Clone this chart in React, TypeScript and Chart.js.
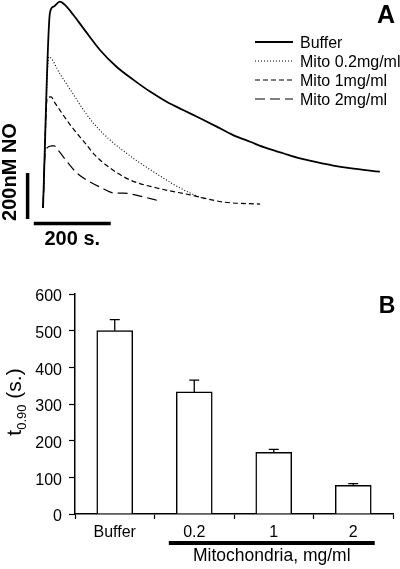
import React, { useEffect, useRef } from 'react';
import { Chart, registerables } from 'chart.js';
Chart.register(...registerables);

const FONT = "'Liberation Sans', Arial, Helvetica, sans-serif";

// ---------- Panel A: NO traces (time in s, concentration in nM) ----------
const bufferT = [0, 18, 27, 44, 57, 79, 105, 148, 191, 235, 278, 321, 364, 408, 451, 494, 538, 581, 624, 668, 711, 754, 797, 875];
const bufferNO = [0, 848, 875, 897, 883, 839, 781, 687, 614, 557, 506, 462, 426, 390, 354, 317, 288, 260, 238, 216, 199, 184, 173, 158];

const mito02T = [0, 15, 44, 75, 109, 135, 174, 213, 252, 296, 338, 382, 421];
const mito02NO = [0, 657, 583, 504, 417, 361, 296, 243, 196, 148, 104, 65, 39];

const mito1T = [0, 11, 21, 31, 75, 109, 135, 174, 226, 296, 382, 468, 564];
const mito1NO = [0, 478, 483, 457, 352, 283, 230, 174, 122, 87, 57, 26, 17];

const mito2T = [0, 6, 23, 29, 39, 65, 88, 122, 148, 187, 208, 252, 304];
const mito2NO = [0, 250, 270, 270, 252, 196, 152, 113, 91, 65, 65, 52, 30];

const traceNames = ['Buffer', 'Mito 0.2mg/ml', 'Mito 1mg/ml', 'Mito 2mg/ml'];

// scale bars (200 s, 200 nM)
const timeBarT = [-24, 176];
const timeBarLevel = -67;
const concBarNO = [-48, 152];
const concBarT = -40;

// ---------- Panel B: t0.90 bars ----------
const categories = ['Buffer', '0.2', '1', '2'];
const t90Values = [500, 333, 168, 78];
const t90Errors = [30, 32, 8, 5];
const mitoGroupSpan = [0.68, 3.27]; // category units covered by the "Mitochondria" bar

const toPoints = (xs: number[], ys: number[]) => xs.map((x, i) => ({ x, y: ys[i] }));

const traceStyles = [
  { borderWidth: 1.8, borderDash: [] as number[] },
  { borderWidth: 1.1, borderDash: [1, 2] },
  { borderWidth: 1.2, borderDash: [5, 3] },
  { borderWidth: 1.2, borderDash: [10, 5] },
];

const panelAPlugin = {
  id: 'panelA',
  afterDraw(chart: any) {
    const ctx = chart.ctx;
    const xs = chart.scales.x;
    const ys = chart.scales.y;
    ctx.save();
    ctx.fillStyle = '#000';
    ctx.strokeStyle = '#000';
    // legend
    ctx.font = `16px ${FONT}`;
    ctx.textAlign = 'left';
    ctx.textBaseline = 'alphabetic';
    traceNames.forEach((name, i) => {
      const base = 48 + i * 19;
      ctx.save();
      ctx.lineWidth = traceStyles[i].borderWidth;
      ctx.setLineDash(traceStyles[i].borderDash);
      ctx.beginPath();
      ctx.moveTo(255, base - 6);
      ctx.lineTo(293, base - 6);
      ctx.stroke();
      ctx.restore();
      ctx.fillText(name, 300, base);
    });
    // panel letter
    ctx.font = `bold 25px ${FONT}`;
    ctx.textAlign = 'center';
    ctx.fillText('A', 386, 23);
    // scale bar labels
    ctx.font = `bold 20px ${FONT}`;
    const midT = xs.getPixelForValue((timeBarT[0] + timeBarT[1]) / 2);
    ctx.fillText('200 s.', midT, ys.getPixelForValue(timeBarLevel) + 22);
    ctx.save();
    ctx.translate(16, 172);
    ctx.rotate(-Math.PI / 2);
    ctx.fillText('200nM NO', 0, 0);
    ctx.restore();
    ctx.restore();
  },
};

const panelBPlugin = {
  id: 'panelB',
  afterDraw(chart: any) {
    const ctx = chart.ctx;
    const xs = chart.scales.x;
    const ys = chart.scales.y;
    const area = chart.chartArea;
    ctx.save();
    ctx.strokeStyle = '#000';
    ctx.fillStyle = '#000';
    // minor ticks
    ctx.lineWidth = 1.2;
    ys.ticks.forEach((t: any) => {
      if (t.value % 100 !== 0) {
        const y = ys.getPixelForValue(t.value);
        ctx.beginPath();
        ctx.moveTo(area.left - 3, y);
        ctx.lineTo(area.left, y);
        ctx.stroke();
      }
    });
    // error bars
    const meta = chart.getDatasetMeta(0);
    ctx.lineWidth = 1.3;
    meta.data.forEach((bar: any, i: number) => {
      const yTop = ys.getPixelForValue(t90Values[i]);
      const yErr = ys.getPixelForValue(t90Values[i] + t90Errors[i]);
      ctx.beginPath();
      ctx.moveTo(bar.x, yTop);
      ctx.lineTo(bar.x, yErr);
      ctx.moveTo(bar.x - 5, yErr);
      ctx.lineTo(bar.x + 5, yErr);
      ctx.stroke();
    });
    // y title with subscript
    ctx.save();
    ctx.translate(21, (area.top + area.bottom) / 2 - 2);
    ctx.rotate(-Math.PI / 2);
    ctx.textBaseline = 'alphabetic';
    ctx.textAlign = 'left';
    const mainFont = `21px ${FONT}`;
    const subFont = `13px ${FONT}`;
    ctx.font = mainFont;
    const w1 = ctx.measureText('t').width;
    const w3 = ctx.measureText(' (s.)').width;
    ctx.font = subFont;
    const w2 = ctx.measureText('0.90').width;
    let x0 = -(w1 + w2 + w3) / 2;
    ctx.font = mainFont;
    ctx.fillText('t', x0, 0);
    x0 += w1;
    ctx.font = subFont;
    ctx.fillText('0.90', x0, 5);
    x0 += w2;
    ctx.font = mainFont;
    ctx.fillText(' (s.)', x0, 0);
    ctx.restore();
    // panel letter
    ctx.font = `bold 23px ${FONT}`;
    ctx.textAlign = 'center';
    ctx.fillText('B', 387, 63);
    // group bar + label
    const gx0 = xs.getPixelForValue(mitoGroupSpan[0]);
    const gx1 = xs.getPixelForValue(mitoGroupSpan[1]);
    const gy = area.bottom + 29;
    ctx.lineWidth = 4;
    ctx.beginPath();
    ctx.moveTo(gx0, gy);
    ctx.lineTo(gx1, gy);
    ctx.stroke();
    ctx.font = `17.5px ${FONT}`;
    ctx.textBaseline = 'middle';
    ctx.fillText('Mitochondria, mg/ml', (gx0 + gx1) / 2, gy + 13);
    ctx.restore();
  },
};

export default function App() {
  const refA = useRef<HTMLCanvasElement>(null);
  const refB = useRef<HTMLCanvasElement>(null);

  useEffect(() => {
    const series = [
      toPoints(bufferT, bufferNO),
      toPoints(mito02T, mito02NO),
      toPoints(mito1T, mito1NO),
      toPoints(mito2T, mito2NO),
    ];
    const chartA = new Chart(refA.current!, {
      type: 'scatter',
      data: {
        datasets: [
          ...series.map((pts, i) => ({
            label: traceNames[i],
            data: pts,
            showLine: true,
            borderColor: '#000',
            backgroundColor: '#000',
            borderWidth: traceStyles[i].borderWidth,
            borderDash: traceStyles[i].borderDash,
            pointRadius: 0,
            cubicInterpolationMode: 'monotone' as const,
            clip: false as any,
          })),
          {
            label: 'time bar',
            data: timeBarT.map((t) => ({ x: t, y: timeBarLevel })),
            showLine: true,
            borderColor: '#000',
            borderWidth: 3.5,
            pointRadius: 0,
            clip: false as any,
          },
          {
            label: 'conc bar',
            data: concBarNO.map((c) => ({ x: concBarT, y: c })),
            showLine: true,
            borderColor: '#000',
            borderWidth: 3.5,
            pointRadius: 0,
            clip: false as any,
          },
        ],
      },
      options: {
        animation: false,
        responsive: false,
        maintainAspectRatio: false,
        layout: { padding: 0 },
        plugins: { legend: { display: false }, tooltip: { enabled: false } },
        scales: {
          x: { type: 'linear', display: false, min: -111.7, max: 927.3 },
          y: { type: 'linear', display: false, min: -182.6, max: 904.3 },
        },
      },
      plugins: [panelAPlugin],
    });

    const chartB = new Chart(refB.current!, {
      type: 'bar',
      data: {
        labels: categories,
        datasets: [
          {
            label: 't0.90',
            data: t90Values,
            backgroundColor: '#fff',
            borderColor: '#000',
            borderWidth: 1.5,
            barThickness: 36,
          },
        ],
      },
      options: {
        animation: false,
        responsive: false,
        maintainAspectRatio: false,
        layout: { padding: { top: 44, right: 7, left: 0, bottom: 0 } },
        plugins: { legend: { display: false }, tooltip: { enabled: false } },
        scales: {
          x: {
            type: 'category',
            afterFit: (s: any) => {
              s.height = 55;
            },
            grid: {
              offset: true,
              drawOnChartArea: false,
              drawTicks: true,
              tickLength: 5,
              color: '#000',
              tickColor: '#000',
              tickWidth: 1.2,
            },
            border: { display: true, color: '#000', width: 1.5 },
            ticks: { color: '#000', font: { family: FONT, size: 16 }, padding: 4, maxRotation: 0 },
          },
          y: {
            type: 'linear',
            min: 0,
            max: 600,
            afterFit: (s: any) => {
              s.width = 75;
            },
            grid: {
              drawOnChartArea: false,
              drawTicks: true,
              tickLength: 6,
              tickWidth: 1.2,
              tickColor: (c: any) => (c.tick && c.tick.value % 100 === 0 ? '#000' : 'rgba(0,0,0,0)'),
            },
            border: { display: true, color: '#000', width: 1.5 },
            ticks: {
              stepSize: 50,
              color: '#000',
              font: { family: FONT, size: 16 },
              padding: 7,
              labelOffset: 3,
              callback: (v: any) => (Number(v) % 100 === 0 ? String(v) : ''),
            },
          },
        },
      },
      plugins: [panelBPlugin],
    });

    return () => {
      chartA.destroy();
      chartB.destroy();
    };
  }, []);

  return (
    <div style={{ position: 'fixed', left: 0, top: 0, width: 400, height: 569, background: '#fff' }}>
      <canvas ref={refA} width={400} height={250} style={{ position: 'absolute', left: 0, top: 0, width: 400, height: 250 }} />
      <canvas ref={refB} width={400} height={319} style={{ position: 'absolute', left: 0, top: 250, width: 400, height: 319 }} />
    </div>
  );
}
